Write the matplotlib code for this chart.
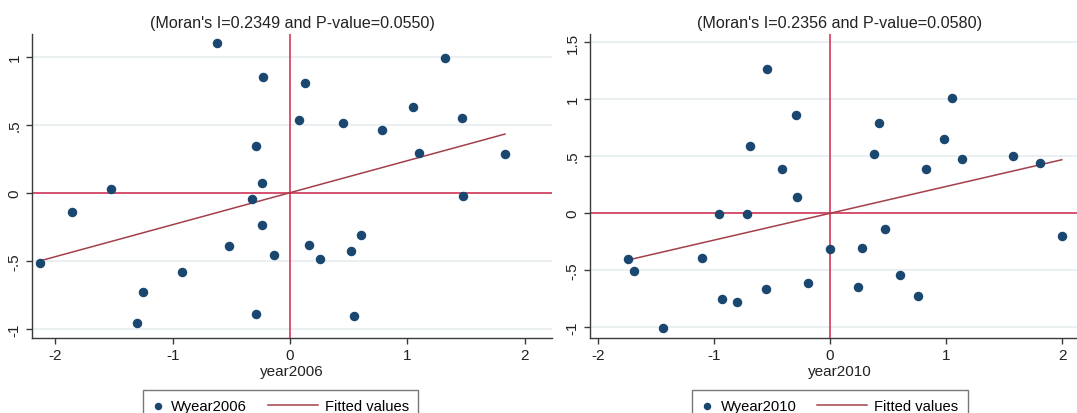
import matplotlib
matplotlib.use("Agg")
import matplotlib.pyplot as plt
from matplotlib.lines import Line2D
from matplotlib.legend_handler import HandlerBase
import numpy as np

plt.rcParams['font.family'] = ['Liberation Sans', 'DejaVu Sans']
plt.rcParams['axes.unicode_minus'] = False

# 2006 panel
x2006 = [-0.62, -0.23, 0.125, 1.32, 0.077, 0.455, 0.784, 1.05, 1.47, -0.287,
         1.097, 1.833, -0.239, -1.523, -0.324, 1.478, -1.858, -0.236, -0.517, -0.134,
         0.162, 0.253, 0.523, 0.602, -2.128, -0.921, -1.256, -1.304, -0.287, 0.548]
w2006 = [1.10, 0.855, 0.81, 0.995, 0.54, 0.512, 0.466, 0.635, 0.554, 0.346,
         0.294, 0.287, 0.074, 0.029, -0.046, -0.024, -0.137, -0.238, -0.387, -0.453,
         -0.38, -0.485, -0.424, -0.306, -0.515, -0.578, -0.728, -0.956, -0.892, -0.904]

# 2010 panel
x2010 = [-0.546, -0.296, -0.69, -0.414, -0.287, 1.049, 0.422, 0.983, 0.379, 1.135,
         0.83, 1.572, 1.81, -0.96, -0.716, 0.474, 1.997, 0.0, 0.273, -1.106,
         -1.744, -1.692, 0.601, -0.193, -0.552, 0.241, 0.761, -0.931, -0.805, -1.44]
w2010 = [1.26, 0.857, 0.585, 0.389, 0.138, 1.009, 0.787, 0.646, 0.518, 0.476,
         0.389, 0.503, 0.439, -0.012, -0.009, -0.137, -0.205, -0.316, -0.31, -0.392,
         -0.404, -0.512, -0.544, -0.611, -0.667, -0.649, -0.725, -0.751, -0.778, -1.012]

titles = ["(Moran's I=0.2349 and P-value=0.0550)", "(Moran's I=0.2356 and P-value=0.0580)"]
xlabels = ["year2006", "year2010"]
leg_names = ["Wyear2006", "Wyear2010"]
xticks = [-2, -1, 0, 1, 2]
yticks_a = [-1, -0.5, 0, 0.5, 1]
yticks_b = [-1, -0.5, 0, 0.5, 1, 1.5]


def ylab(v):
    s = ('%g' % v)
    return s.replace('0.', '.')


class LongLine(HandlerBase):
    # legend line that reaches back into the column gap (stata style)
    def create_artists(self, legend, orig_handle, xdescent, ydescent,
                       width, height, fontsize, trans):
        y = (height - ydescent) / 2.
        ext = 2.6 * fontsize
        ln = Line2D([-xdescent - ext, -xdescent + width], [y, y])
        ln.set_color(orig_handle.get_color())
        ln.set_linewidth(orig_handle.get_linewidth())
        ln.set_transform(trans)
        return [ln]


navy = '#1a476f'
maroon = '#a3404a'
refred = '#d0264c'
grid_c = '#e6eef0'
axc = '#3a3a3a'

fig = plt.figure(figsize=(10.77, 4.14), dpi=100)
ax1 = fig.add_axes([0.0297, 0.1812, 0.4828, 0.7343])
ax2 = fig.add_axes([0.5478, 0.1812, 0.4643, 0.7343])

panels = [
    (ax1, x2006, w2006, yticks_a, (-2.2, 2.234), (-1.066, 1.169), 0.478),
    (ax2, x2010, w2010, yticks_b, (-2.069, 2.24), (-1.096, 1.57), 0.48),
]

for i, (ax, xs, ws, yt, xl, yl, lx) in enumerate(panels):
    xs = np.array(xs)
    ws = np.array(ws)
    b, a = np.polyfit(xs, ws, 1)
    xf = np.array([xs.min(), xs.max()])

    ax.set_xlim(*xl)
    ax.set_ylim(*yl)
    ax.set_yticks(yt)
    ax.set_yticklabels([ylab(v) for v in yt], rotation=90, va='center')
    ax.set_xticks(xticks)
    ax.grid(axis='y', color=grid_c, linewidth=1.2)
    ax.set_axisbelow(True)
    ax.axhline(0, color=refred, linewidth=1.1, zorder=1)
    ax.axvline(0, color=refred, linewidth=1.1, zorder=1)
    sc = ax.scatter(xs, ws, s=34, color=navy, zorder=3)
    fl, = ax.plot(xf, a + b * xf, color=maroon, linewidth=1.1, zorder=2)

    for sp in ['top', 'right']:
        ax.spines[sp].set_visible(False)
    for sp in ['left', 'bottom']:
        ax.spines[sp].set_color(axc)
        ax.spines[sp].set_linewidth(1.0)
    ax.tick_params(direction='out', length=4, width=1, color=axc,
                   labelsize=11, labelcolor='#222222')
    ax.set_title(titles[i], fontsize=11.6, pad=5, color='#222222')
    ax.set_xlabel(xlabels[i], fontsize=11, labelpad=1, color='#222222')
    ax.legend([sc, fl], [leg_names[i], 'Fitted values'],
              handler_map={Line2D: LongLine()},
              loc='upper center', bbox_to_anchor=(lx, -0.171), ncol=2,
              frameon=True, fancybox=False, edgecolor='#555555', fontsize=10.6,
              handlelength=0.8, columnspacing=4.0, borderpad=0.62,
              handletextpad=0.5, borderaxespad=0, markerscale=0.75,
              scatterpoints=1)

fig.savefig('out.png', dpi=100)
